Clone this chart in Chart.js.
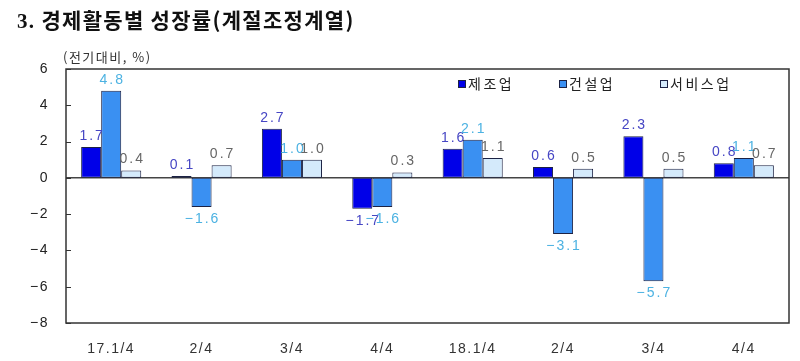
<!DOCTYPE html>
<html>
<head>
<meta charset="utf-8">
<script src="https://cdn.jsdelivr.net/npm/chart.js@4"></script>
<style>
  html, body { margin: 0; padding: 0; background: #fff; }
  #wrap { position: relative; width: 800px; height: 361px; overflow: hidden; }
  #title {
    position: absolute; left: 17px; top: 4px;
    font-family: 'Noto Sans CJK KR', sans-serif; font-weight: 700;
    font-size: 21px; color: #111; letter-spacing: 1.3px; white-space: nowrap;
  }
  #title .num { font-family: 'Liberation Serif', serif; }
  #unit {
    position: absolute; left: 63px; top: 47px;
    font-family: 'Noto Sans CJK KR', sans-serif; font-size: 13px; color: #333;
    letter-spacing: 1.5px; white-space: nowrap;
  }
  canvas { position: absolute; left: 0; top: 0; }
</style>
</head>
<body>
<div id="wrap">
  <canvas id="growthChart" width="800" height="361"></canvas>
  <div id="title"><span class="num">3.</span> 경제활동별 성장률(계절조정계열)</div>
  <div id="unit">(전기대비, %)</div>
</div>
<script>
// 경제활동별 성장률 · chart data
const quarters = ['17.1/4', '2/4', '3/4', '4/4', '18.1/4', '2/4', '3/4', '4/4'];
const seriesNames = ['제조업', '건설업', '서비스업'];
const manufacturing = [1.7, 0.1, 2.7, -1.7, 1.6, 0.6, 2.3, 0.8];
const construction = [4.8, -1.6, 1.0, -1.6, 2.1, -3.1, -5.7, 1.1];
const services = [0.4, 0.7, 1.0, 0.3, 1.1, 0.5, 0.5, 0.7];
const yTicks = [6, 4, 2, 0, -2, -4, -6, -8];

const barColors = ['#0000e8', '#3a90f2', '#d4eafb'];
const labelColors = ['#4646c4', '#4cb2e2', '#666666'];
const edge = '#1c2244';
const numFont = "'Liberation Sans', Arial, sans-serif";
const krFont = "'Noto Sans CJK KR', sans-serif";

const fmt = v => (v < 0 ? '\u2212' + Math.abs(v).toFixed(1) : v.toFixed(1));

// ── extras: zero line, frame, inner ticks, value labels, legend ──
const decor = {
  id: 'decor',
  beforeDraw(chart) {
    // wider letter spacing for the axis labels, as in the source
    chart.ctx.letterSpacing = '1.5px';
  },
  beforeDatasetsDraw(chart) {
    const { ctx, chartArea: a, scales: { y } } = chart;
    const y0 = y.getPixelForValue(0);
    ctx.save();
    ctx.strokeStyle = '#444';
    ctx.lineWidth = 1.5;
    ctx.beginPath();
    ctx.moveTo(a.left, y0);
    ctx.lineTo(a.right, y0);
    ctx.stroke();
    ctx.restore();
  },
  afterDatasetsDraw(chart) {
    const { ctx, chartArea: a, scales: { y } } = chart;
    ctx.save();

    // frame
    ctx.strokeStyle = '#333';
    ctx.lineWidth = 1.5;
    ctx.strokeRect(a.left, a.top, a.right - a.left, a.bottom - a.top);

    // inward ticks
    ctx.lineWidth = 1;
    yTicks.forEach(t => {
      const py = Math.round(y.getPixelForValue(t)) + 0.5;
      ctx.beginPath();
      ctx.moveTo(a.left, py);
      ctx.lineTo(a.left + 5, py);
      ctx.stroke();
    });

    // value labels
    ctx.font = '14px ' + numFont;
    ctx.letterSpacing = '2px';
    ctx.textAlign = 'center';
    chart.data.datasets.forEach((ds, di) => {
      const meta = chart.getDatasetMeta(di);
      ctx.fillStyle = labelColors[di];
      meta.data.forEach((bar, i) => {
        const v = ds.data[i];
        if (v >= 0) {
          ctx.textBaseline = 'bottom';
          ctx.fillText(fmt(v), bar.x + 1, bar.y - 4);
        } else {
          ctx.textBaseline = 'top';
          ctx.fillText(fmt(v), bar.x + 1, bar.y + 5);
        }
      });
    });

    // legend
    const legendX = [458, 559, 660];
    const ly = 84;
    ctx.font = '14px ' + krFont;
    ctx.letterSpacing = '2.5px';
    ctx.textAlign = 'left';
    ctx.textBaseline = 'middle';
    seriesNames.forEach((name, i) => {
      ctx.fillStyle = barColors[i];
      ctx.fillRect(legendX[i], ly - 4, 7, 7);
      ctx.strokeStyle = edge;
      ctx.lineWidth = 1;
      ctx.strokeRect(legendX[i] + 0.5, ly - 3.5, 7, 7);
      ctx.fillStyle = '#222';
      ctx.fillText(name, legendX[i] + 10, ly);
    });

    ctx.restore();
  }
};

function initChart() {
  const el = document.getElementById('growthChart');
  new Chart(el, {
    type: 'bar',
    data: {
      labels: quarters,
      datasets: [manufacturing, construction, services].map((d, i) => ({
        label: seriesNames[i],
        data: d,
        backgroundColor: barColors[i],
        borderColor: edge,
        borderWidth: 1,
        borderSkipped: false,
        categoryPercentage: 0.665,
        barPercentage: 1.0,
      }))
    },
    options: {
      responsive: false,
      animation: false,
      devicePixelRatio: 1,
      layout: { padding: { top: 69, right: 11, left: 0, bottom: 0 } },
      plugins: {
        legend: { display: false },
        title: { display: false },
        tooltip: { enabled: false }
      },
      scales: {
        x: {
          grid: { display: false },
          border: { display: false },
          ticks: { color: '#333', font: { family: numFont, size: 14 }, padding: 10, maxRotation: 0 },
          afterFit: s => { s.height = 38; }
        },
        y: {
          min: -8,
          max: 6,
          grid: { display: false, drawTicks: false },
          border: { display: false },
          afterBuildTicks: s => { s.ticks = yTicks.map(v => ({ value: v })); },
          ticks: {
            color: '#222',
            font: { family: numFont, size: 14 },
            padding: 17,
            callback: v => (v < 0 ? '\u2212' + Math.abs(v) : String(v))
          },
          afterFit: s => { s.width = 66; }
        }
      }
    },
    plugins: [decor]
  });
}

document.addEventListener('DOMContentLoaded', initChart);
</script>
</body>
</html>
